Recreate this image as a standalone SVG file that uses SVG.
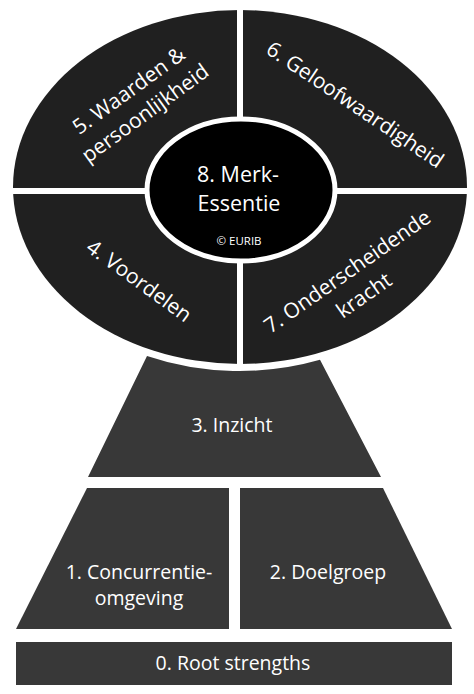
<svg xmlns="http://www.w3.org/2000/svg" width="474" height="694" viewBox="0 0 474 694">
  <style>
    .seg { fill: #202020; }
    .pyr { fill: #383838; }
    .gap { fill: #ffffff; }
    text { font-family: "Open Sans", "Noto Sans", sans-serif; fill: #ffffff; text-anchor: middle; }
    .t20 { font-size: 21px; }
    .t19 { font-size: 19.5px; }
    .t21 { font-size: 21.5px; }
    .t12 { font-size: 11.5px; }
  </style>
  <rect width="474" height="694" fill="#ffffff"/>

  <g id="outer-ellipse">
    <ellipse class="seg" cx="240" cy="187" rx="227" ry="177"/>
    <rect class="gap" x="237" y="4" width="6" height="366"/>
    <rect class="gap" x="8" y="188" width="464" height="6"/>
  </g>

  <g id="node5">
    <g transform="translate(137,102) rotate(-36)">
      <text class="t20" y="-7">5. Waarden &amp;</text>
      <text class="t20" y="21">persoonlijkheid</text>
    </g>
  </g>

  <g id="node6">
    <text class="t20" transform="translate(355,105) rotate(34)" y="7">6. Geloofwaardigheid</text>
  </g>

  <g id="node4">
    <text class="t20" transform="translate(139,281) rotate(36)" y="7">4. Voordelen</text>
  </g>

  <g id="node7">
    <g transform="translate(356,284) rotate(-35)">
      <text class="t20" y="-8">7. Onderscheidende</text>
      <text class="t20" y="21">kracht</text>
    </g>
  </g>

  <g id="node8">
    <ellipse cx="241" cy="190" rx="94" ry="71" fill="#000000" stroke="#ffffff" stroke-width="5"/>
    <text class="t21" x="238" y="182">8. Merk-</text>
    <text class="t21" x="239" y="211">Essentie</text>
    <text class="t12" x="239" y="245">© EURIB</text>
  </g>

  <g id="node3">
    <path class="pyr" d="M147,356 A234,184 0 0 0 320,359.8 L381,477 L88,477 Z"/>
    <text class="t19" x="232" y="432">3. Inzicht</text>
  </g>

  <g id="node1">
    <path class="pyr" d="M87,488 L229,488 L229,629 L16,629 Z"/>
    <text class="t19" x="139" y="579">1. Concurrentie-</text>
    <text class="t19" x="139" y="605">omgeving</text>
  </g>

  <g id="node2">
    <path class="pyr" d="M240,488 L383,488 L452,629 L240,629 Z"/>
    <text class="t19" x="328" y="579">2. Doelgroep</text>
  </g>

  <g id="node0">
    <rect class="pyr" x="16" y="642" width="436" height="43"/>
    <text class="t19" x="233" y="670">0. Root strengths</text>
  </g>

  <g id="connectors"/>
</svg>
